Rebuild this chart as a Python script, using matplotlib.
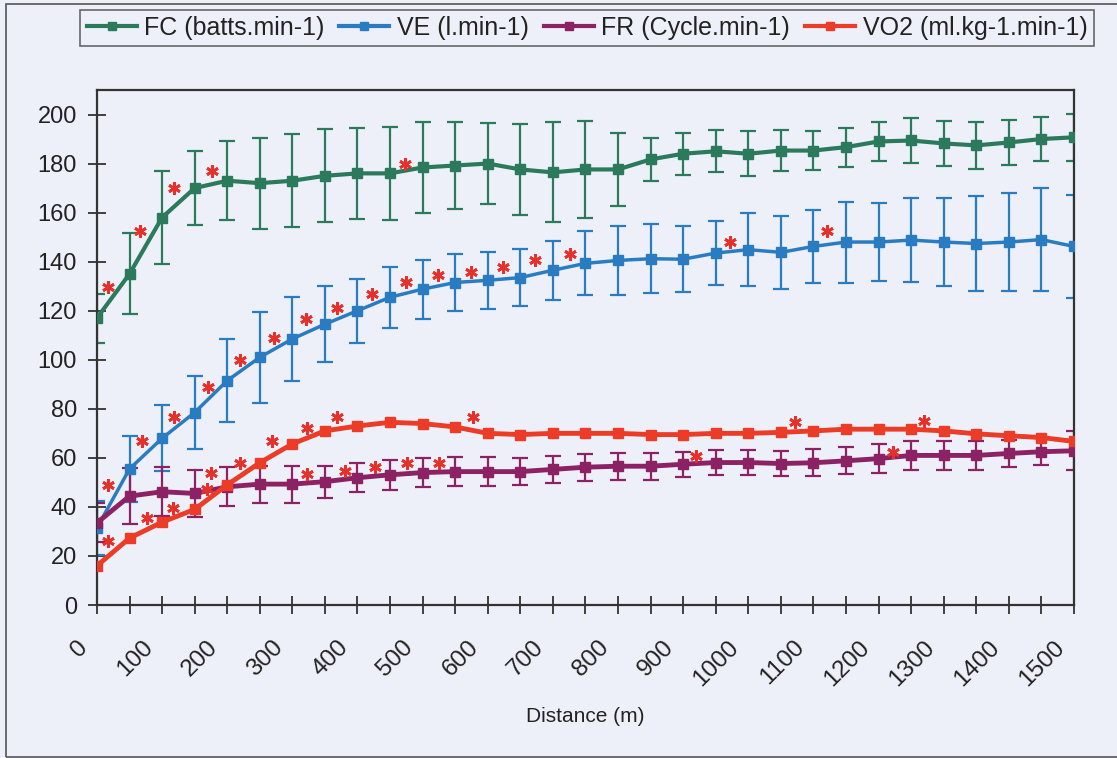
import matplotlib
matplotlib.use("Agg")
import matplotlib.pyplot as plt
from matplotlib.lines import Line2D
from matplotlib.patches import Rectangle
from matplotlib.transforms import ScaledTranslation

plt.rcParams['font.family'] = ['Liberation Sans', 'DejaVu Sans']

# distance (m)
distance = [0, 50, 100, 150, 200, 250, 300, 350, 400, 450, 500, 550, 600, 650, 700,
            750, 800, 850, 900, 950, 1000, 1050, 1100, 1150, 1200, 1250, 1300, 1350,
            1400, 1450, 1500]

fc = [117, 135, 158, 170, 173, 172, 173, 175, 176, 176, 178.4, 179.2, 180, 177.6, 176.4,
      177.6, 177.6, 181.7, 184, 185, 184, 185.3, 185.3, 186.7, 189, 189.4, 188.2, 187.4,
      188.6, 190, 190.7]
fc_sd = [10, 16.5, 19, 15, 16, 18.5, 19, 19, 18.5, 19, 18.5, 17.6, 16.6, 18.5, 20.4,
         19.7, 14.9, 8.9, 8.6, 8.6, 9.2, 8.5, 8, 8, 8, 9, 9, 9.5, 9, 9, 9.5]

ve = [31.5, 55.5, 68, 78.5, 91.5, 101, 108.5, 114.5, 120, 125.5, 128.8, 131.5, 132.4,
      133.5, 136.5, 139.3, 140.5, 141.2, 141, 143.5, 144.9, 143.8, 146.2, 148, 148, 148.8,
      148, 147.4, 148, 149, 146.2]
ve_sd = [11, 13.5, 13.5, 15, 17, 18.5, 17, 15.5, 13, 12.5, 12, 11.5, 11.5, 11.5, 12, 13,
         14, 14, 13.5, 13, 15, 15, 15, 16.5, 16, 17, 18, 19.5, 20, 21, 21]

fr = [33.5, 44.4, 46.2, 45.5, 48.2, 49.3, 49.3, 50.3, 51.9, 53.1, 54, 54.4, 54.4, 54.4,
      55.3, 56.2, 56.6, 56.6, 57.4, 58.1, 58.1, 57.7, 58, 58.8, 59.7, 61, 61, 61, 61.8,
      62.5, 62.9]
fr_sd = [8, 11.5, 10, 9.5, 8, 7.5, 7.5, 6.5, 6, 6, 6, 6, 6, 5.5, 5.5, 5.5, 5.5, 5.5, 5,
         5, 5, 5, 5.5, 5.5, 6, 6, 6, 6, 5.5, 5.5, 8]

vo2 = [16, 27.3, 33.8, 39, 49, 58, 65.7, 71, 73, 74.5, 74, 72.6, 70, 69.5, 70, 70, 70,
       69.5, 69.5, 70, 70, 70.4, 71, 71.7, 71.7, 71.7, 71, 69.8, 69, 68.3, 66.7]

# significance asterisks
star_x = [17, 66, 118, 177, 473,
          17, 69, 118, 170, 220, 272, 321, 369, 422, 474, 523, 574, 623, 672, 726, 972, 1121,
          17, 77, 117, 169, 175, 220, 269, 322, 369, 577, 1072, 1270,
          322, 381, 427, 476, 525, 920, 1222]
star_y = [129.5, 152.7, 170, 177, 180,
          49, 66.8, 76.6, 88.8, 100, 109, 116.5, 121, 126.7, 131.6, 134.4, 135.6, 138, 140.5,
          143, 148, 152.3,
          26, 35.4, 39.5, 47.2, 53.8, 57.8, 66.8, 72, 76.6, 76.6, 74.5, 75,
          53.4, 54.6, 56.2, 57.8, 57.8, 60.7, 62.3]

labels = ['FC (batts.min-1)', 'VE (l.min-1)', 'FR (Cycle.min-1)', 'VO2 (ml.kg-1.min-1)']
colors = ['#2b7a5c', '#2a7cc2', '#8c2163', '#ec3b26']
bg = '#eef0f9'

fig = plt.figure(figsize=(11.17, 7.58), dpi=100, facecolor=bg)
ax = fig.add_axes([0.0868, 0.2018, 0.8747, 0.6795], facecolor=bg)

series = [(fc, fc_sd, 3.0), (ve, ve_sd, 2.5), (fr, fr_sd, 3.5), (vo2, None, 3.5)]
for (vals, sd, lw), c in zip(series, colors):
    if sd is not None:
        ax.errorbar(distance, vals, yerr=sd, fmt='none', ecolor=c, elinewidth=1.6,
                    capsize=6, capthick=1.6, zorder=2)
    ax.plot(distance, vals, color=c, lw=lw, marker='s', ms=7, zorder=3)

ax.plot(star_x, star_y, ls='none', marker=(6, 2, 0), ms=9, mew=2, color='#e8302a', zorder=4)

ax.set_xlim(0, 1500)
ax.set_ylim(0, 210)
ax.set_yticks(range(0, 201, 20))
ax.set_xticks(range(0, 1501, 50))
ax.set_xticklabels([str(d) if d % 100 == 0 else '' for d in range(0, 1501, 50)],
                   rotation=45, ha='right')
ax.tick_params(axis='both', direction='inout', length=13, width=1.2, labelsize=17,
               colors='#222222', pad=8)
ax.tick_params(axis='x', labelsize=17.5, pad=16)
shift = ScaledTranslation(-5 / 100, 0, fig.dpi_scale_trans)
for lab in ax.get_xticklabels():
    lab.set_transform(lab.get_transform() + shift)
for s in ax.spines.values():
    s.set_color('#333333')
    s.set_linewidth(1.6)
ax.set_xlabel('Distance (m)', fontsize=15, color='#222222', labelpad=12)

handles = [Line2D([], [], color=c, lw=3, marker='s', ms=6) for c in colors]
leg = fig.legend(handles, labels, loc='center', bbox_to_anchor=(0.5255, 0.963), ncol=4,
                 fontsize=18, frameon=True, fancybox=False, edgecolor='#444444',
                 facecolor=bg, handlelength=2.0, handletextpad=0.3, columnspacing=0.6,
                 borderpad=0.25)
leg.get_frame().set_linewidth(1.2)
for t in leg.get_texts():
    t.set_color('#222222')

fig.patches.append(Rectangle((0.0055, 0.001), 1.2, 0.994, transform=fig.transFigure,
                             fill=False, edgecolor='#555555', lw=1.2))

fig.savefig('out.png', dpi=100, facecolor=bg)
